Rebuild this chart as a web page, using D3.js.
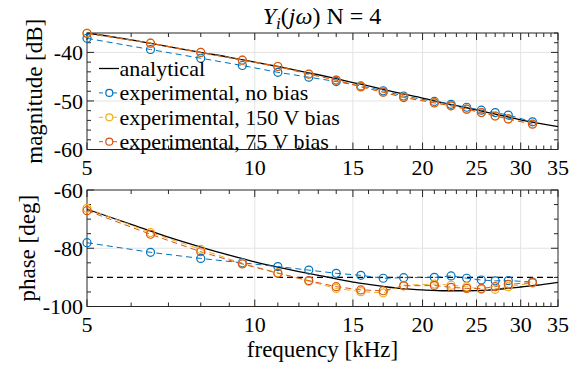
<!DOCTYPE html>
<html>
<head>
<meta charset="utf-8">
<script src="https://cdn.jsdelivr.net/npm/d3@7"></script>
<style>
  html, body { margin: 0; padding: 0; background: #fff; }
  svg { display: block; }
  text { font-family: "Liberation Serif", "Times New Roman", serif; fill: #000; }
</style>
</head>
<body>
<svg id="chart" width="578" height="367"></svg>
<script>
// Measurement frequencies [kHz]
const freqExp = [5, 6.5, 8, 9.5, 11, 12.5, 14, 15.5, 17, 18.5, 21, 22.5, 24, 25.5, 27, 28.5, 31.5];

// Magnitude [dB]
const magNoBias = [-37.1, -39.4, -41.2, -42.7, -44.1, -45.1, -46.0, -46.9, -47.9, -49.0, -50.1, -50.7, -51.3, -51.9, -52.4, -52.9, -54.3];
const mag150V   = [-36.0, -38.1, -40.0, -41.6, -42.9, -44.4, -45.7, -47.0, -48.2, -49.2, -50.3, -51.0, -51.7, -52.4, -53.1, -53.7, -54.7];
const mag75V    = [-36.1, -38.1, -40.0, -41.6, -42.9, -44.5, -45.7, -47.1, -48.2, -49.3, -50.4, -51.0, -51.7, -52.4, -53.1, -53.7, -54.8];

// Phase [deg]
const phaseNoBias = [-78.1, -81.4, -83.5, -85.0, -86.3, -87.5, -88.6, -89.3, -90.3, -90.1, -90.0, -89.5, -90.3, -90.9, -91.2, -91.1, -91.6];
const phase150V   = [-66.3, -74.6, -80.4, -85.2, -88.4, -91.3, -93.8, -94.9, -95.3, -92.7, -92.3, -92.7, -93.2, -94.1, -94.1, -93.2, -91.9];
const phase75V    = [-67.1, -75.2, -81.2, -85.4, -88.6, -91.1, -93.2, -94.3, -94.6, -92.9, -92.8, -93.4, -93.8, -93.8, -93.2, -92.4, -91.8];

// Analytical model
const freqModel  = [5, 6, 7, 8, 9, 10, 11, 12, 13, 14, 15, 16, 17, 18, 20, 22, 24, 26, 28, 30, 32, 35];
const magModel   = [-36.0, -37.4, -38.8, -40.0, -41.0, -42.0, -42.9, -43.8, -44.6, -45.4, -46.2, -46.9, -47.6, -48.3, -49.4, -50.5, -51.4, -52.3, -53.1, -53.9, -54.5, -55.3];
const phaseModel = [-66.6, -71.8, -76.2, -79.6, -82.4, -84.7, -86.5, -88.0, -89.3, -90.5, -91.6, -92.4, -93.1, -93.7, -94.3, -94.6, -94.6, -94.4, -93.9, -93.3, -92.7, -91.7];

// Axis ticks
const xTicks = [5, 10, 15, 20, 25, 30, 35];
const xMinor = d3.range(5, 36);
const magTicks = [-60, -50, -40];
const magMinor = d3.range(-60, -35, 2);
const phaseTicks = [-100, -80, -60];
const phaseMinor = d3.range(-100, -59, 5);
const phaseRef = -90;

const seriesNames = ["analytical", "experimental, no bias", "experimental, 150 V bias", "experimental, 75 V bias"];
const colors = { black: "#000000", blue: "#0072BD", yellow: "#EDB120", orange: "#D95319" };

const svg = d3.select("#chart");
const left = 87, right = 558;

const x = d3.scaleLog().domain([5, 35]).range([left, right]);

const panels = [
  { top: 33, bottom: 149.5, domain: [-60, -36], major: magTicks, minor: magMinor, grid: [-50, -40],
    ylabel: "magnitude [dB]", ylabelX: 34, tickLabelY: 175,
    model: magModel, series: [mag150V, mag75V, magNoBias] },
  { top: 190, bottom: 306.5, domain: [-100, -60], major: phaseTicks, minor: phaseMinor, grid: [-80],
    ylabel: "phase [deg]", ylabelX: 27, tickLabelY: 332,
    model: phaseModel, series: [phase150V, phase75V, phaseNoBias], ref: phaseRef }
];

const tickFont = 22;
const labelFont = 23;
const legendFont = 22;
const frameColor = "#262626";

panels.forEach((p, idx) => {
  const y = d3.scaleLinear().domain(p.domain).range([p.bottom, p.top]);
  const g = svg.append("g");

  // grid
  g.selectAll(".gx").data(xTicks.filter(t => t > 5 && t < 35)).join("line")
    .attr("x1", d => x(d)).attr("x2", d => x(d))
    .attr("y1", p.top).attr("y2", p.bottom)
    .attr("stroke", "#e3e3e3").attr("stroke-width", 1);
  g.selectAll(".gy").data(p.grid).join("line")
    .attr("x1", left).attr("x2", right)
    .attr("y1", d => y(d)).attr("y2", d => y(d))
    .attr("stroke", "#e3e3e3").attr("stroke-width", 1);

  // reference line
  if (p.ref !== undefined) {
    g.append("line")
      .attr("x1", left).attr("x2", right)
      .attr("y1", y(p.ref)).attr("y2", y(p.ref))
      .attr("stroke", "#000").attr("stroke-width", 1.2)
      .attr("stroke-dasharray", "6,4");
  }

  const clipId = "clip" + idx;
  svg.append("clipPath").attr("id", clipId).append("rect")
    .attr("x", left).attr("y", p.top).attr("width", right - left).attr("height", p.bottom - p.top);

  const plot = g.append("g").attr("clip-path", `url(#${clipId})`);

  // analytical curve
  const lineModel = d3.line().x((d, i) => x(freqModel[i])).y(d => y(d)).curve(d3.curveMonotoneX);
  plot.append("path").datum(p.model)
    .attr("d", lineModel).attr("fill", "none")
    .attr("stroke", colors.black).attr("stroke-width", 1.3);

  // experimental series: no bias, 150 V, 75 V
  const order = [
    { vals: p.series[2], color: colors.blue },
    { vals: p.series[0], color: colors.yellow },
    { vals: p.series[1], color: colors.orange }
  ];
  const lineExp = d3.line().x((d, i) => x(freqExp[i])).y(d => y(d));
  const markers = svg.append("g");
  order.forEach(s => {
    plot.append("path").datum(s.vals)
      .attr("d", lineExp).attr("fill", "none")
      .attr("stroke", s.color).attr("stroke-width", 1)
      .attr("stroke-dasharray", "6,4");
    markers.selectAll(null).data(s.vals).join("circle")
      .attr("cx", (d, i) => x(freqExp[i])).attr("cy", d => y(d))
      .attr("r", 4).attr("fill", "none")
      .attr("stroke", s.color).attr("stroke-width", 1.2);
  });

  // frame
  g.append("rect")
    .attr("x", left).attr("y", p.top).attr("width", right - left).attr("height", p.bottom - p.top)
    .attr("fill", "none").attr("stroke", frameColor).attr("stroke-width", 1);

  // x ticks (inward, bottom and top)
  const majorLen = 7, minorLen = 4;
  xMinor.forEach(f => {
    const len = xTicks.includes(f) ? majorLen : minorLen;
    g.append("line").attr("x1", x(f)).attr("x2", x(f))
      .attr("y1", p.bottom).attr("y2", p.bottom - len)
      .attr("stroke", frameColor).attr("stroke-width", 1);
    g.append("line").attr("x1", x(f)).attr("x2", x(f))
      .attr("y1", p.top).attr("y2", p.top + len)
      .attr("stroke", frameColor).attr("stroke-width", 1);
  });
  // y ticks (inward, left and right)
  p.minor.forEach(v => {
    const len = p.major.includes(v) ? majorLen : minorLen;
    g.append("line").attr("x1", left).attr("x2", left + len)
      .attr("y1", y(v)).attr("y2", y(v))
      .attr("stroke", frameColor).attr("stroke-width", 1);
    g.append("line").attr("x1", right).attr("x2", right - len)
      .attr("y1", y(v)).attr("y2", y(v))
      .attr("stroke", frameColor).attr("stroke-width", 1);
  });

  // tick labels
  g.selectAll(".xl").data(xTicks).join("text")
    .attr("x", d => x(d)).attr("y", p.tickLabelY)
    .attr("text-anchor", "middle").attr("font-size", tickFont)
    .text(d => d);
  g.selectAll(".yl").data(p.major).join("text")
    .attr("x", left - 4).attr("y", d => y(d)).attr("dy", "0.35em")
    .attr("text-anchor", "end").attr("font-size", tickFont)
    .text(d => d);

  // y label
  g.append("text")
    .attr("transform", `translate(${p.ylabelX},${(p.top + p.bottom) / 2}) rotate(-90)`)
    .attr("text-anchor", "middle").attr("dy", "0.35em").attr("font-size", labelFont)
    .text(p.ylabel);
});

// legend (inside the magnitude panel, no box)
const legend = svg.append("g");
const legendStyles = [
  { color: colors.black, dash: null, marker: false },
  { color: colors.blue, dash: "4,3", marker: true },
  { color: colors.yellow, dash: "4,3", marker: true },
  { color: colors.orange, dash: "4,3", marker: true }
];
seriesNames.forEach((name, i) => {
  const ly = 68.5 + i * 24.4;
  const st = legendStyles[i];
  legend.append("line").attr("x1", 99).attr("x2", 119).attr("y1", ly).attr("y2", ly)
    .attr("stroke", st.color).attr("stroke-width", st.marker ? 1 : 1.3)
    .attr("stroke-dasharray", st.dash);
  if (st.marker) {
    legend.append("circle").attr("cx", 109.3).attr("cy", ly).attr("r", 3.5)
      .attr("fill", "#fff").attr("stroke", st.color).attr("stroke-width", 1.2);
  }
  legend.append("text").attr("x", 119.5).attr("y", ly).attr("dy", "0.33em")
    .attr("font-size", legendFont).text(name);
});

// title
const title = svg.append("text").attr("x", 322).attr("y", 24)
  .attr("text-anchor", "middle").attr("font-size", 24);
title.append("tspan").attr("font-style", "italic").text("Y");
title.append("tspan").attr("font-style", "italic").attr("font-size", 17).attr("dy", 5).text("i");
title.append("tspan").attr("dy", -5).text("(");
title.append("tspan").attr("font-style", "italic").text("jω");
title.append("tspan").text(") N = 4");

// x label
svg.append("text").attr("x", 322.5).attr("y", 357)
  .attr("text-anchor", "middle").attr("font-size", labelFont)
  .text("frequency [kHz]");
</script>
</body>
</html>
